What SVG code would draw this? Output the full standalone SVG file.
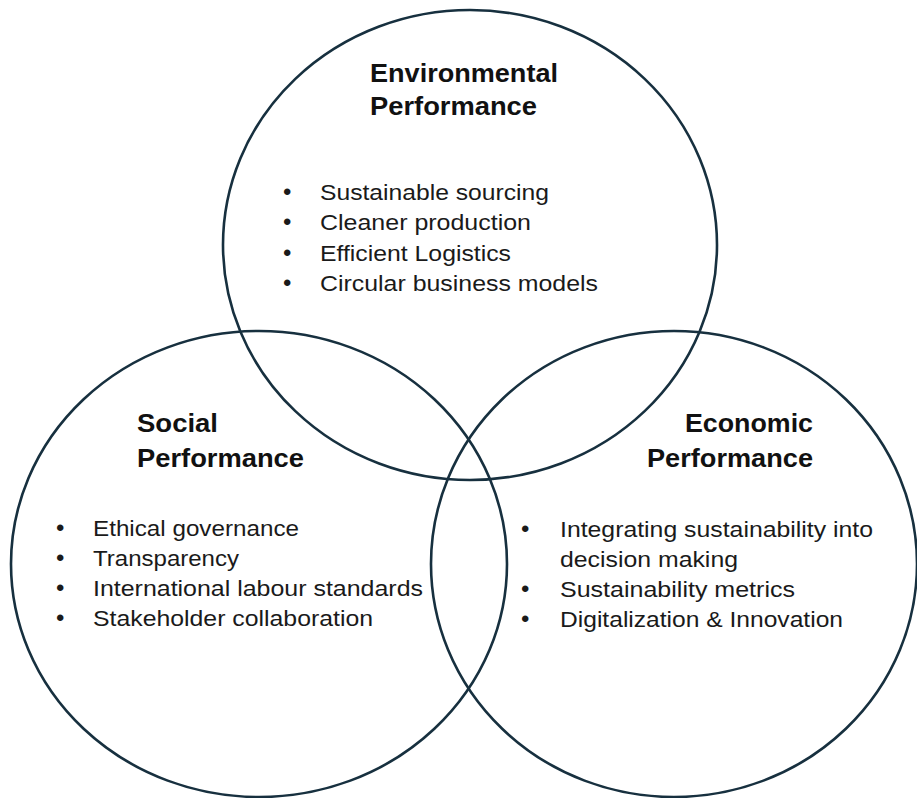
<svg xmlns="http://www.w3.org/2000/svg" width="917" height="798" viewBox="0 0 917 798">
  <style>
    .ring { fill: none; stroke: #17303f; stroke-width: 2.6; }
    .head { font-family: "Liberation Sans", Arial, sans-serif; font-weight: bold; font-size: 25px; fill: #111; }
    .item { font-family: "Liberation Sans", Arial, sans-serif; font-size: 22px; fill: #1a1a1a; }
    .dot { font-family: "Liberation Sans", Arial, sans-serif; font-size: 24px; fill: #1a1a1a; }
  </style>
  <rect width="917" height="798" fill="#ffffff"/>

  <!-- the three overlapping circles -->
  <g id="circles">
    <ellipse class="ring" cx="470" cy="245" rx="247" ry="235"/>
    <ellipse class="ring" cx="259" cy="564" rx="248" ry="233"/>
    <ellipse class="ring" cx="674" cy="564" rx="243" ry="233"/>
  </g>

  <!-- Environmental -->
  <g id="environmental">
    <text class="head" x="370" y="82" textLength="188" lengthAdjust="spacingAndGlyphs">Environmental</text>
    <text class="head" x="370" y="115" textLength="167" lengthAdjust="spacingAndGlyphs">Performance</text>
    <text class="dot" x="283" y="200">•</text>
    <text class="item" x="320" y="200" textLength="229" lengthAdjust="spacingAndGlyphs">Sustainable sourcing</text>
    <text class="dot" x="283" y="230">•</text>
    <text class="item" x="320" y="230" textLength="211" lengthAdjust="spacingAndGlyphs">Cleaner production</text>
    <text class="dot" x="283" y="261">•</text>
    <text class="item" x="320" y="261" textLength="191" lengthAdjust="spacingAndGlyphs">Efficient Logistics</text>
    <text class="dot" x="283" y="291">•</text>
    <text class="item" x="320" y="291" textLength="278" lengthAdjust="spacingAndGlyphs">Circular business models</text>
  </g>

  <!-- Social -->
  <g id="social">
    <text class="head" x="137" y="432" textLength="81" lengthAdjust="spacingAndGlyphs">Social</text>
    <text class="head" x="137" y="467" textLength="167" lengthAdjust="spacingAndGlyphs">Performance</text>
    <text class="dot" x="56" y="536">•</text>
    <text class="item" x="93" y="536" textLength="206" lengthAdjust="spacingAndGlyphs">Ethical governance</text>
    <text class="dot" x="56" y="566">•</text>
    <text class="item" x="93" y="566" textLength="146" lengthAdjust="spacingAndGlyphs">Transparency</text>
    <text class="dot" x="56" y="596">•</text>
    <text class="item" x="93" y="596" textLength="330" lengthAdjust="spacingAndGlyphs">International labour standards</text>
    <text class="dot" x="56" y="626">•</text>
    <text class="item" x="93" y="626" textLength="280" lengthAdjust="spacingAndGlyphs">Stakeholder collaboration</text>
  </g>

  <!-- Economic -->
  <g id="economic">
    <text class="head" x="685" y="432" textLength="128" lengthAdjust="spacingAndGlyphs">Economic</text>
    <text class="head" x="647" y="467" textLength="166" lengthAdjust="spacingAndGlyphs">Performance</text>
    <text class="dot" x="521" y="537">•</text>
    <text class="item" x="560" y="537" textLength="313" lengthAdjust="spacingAndGlyphs">Integrating sustainability into</text>
    <text class="item" x="560" y="567" textLength="178" lengthAdjust="spacingAndGlyphs">decision making</text>
    <text class="dot" x="521" y="597">•</text>
    <text class="item" x="560" y="597" textLength="235" lengthAdjust="spacingAndGlyphs">Sustainability metrics</text>
    <text class="dot" x="521" y="627">•</text>
    <text class="item" x="560" y="627" textLength="283" lengthAdjust="spacingAndGlyphs">Digitalization &amp; Innovation</text>
  </g>
</svg>
